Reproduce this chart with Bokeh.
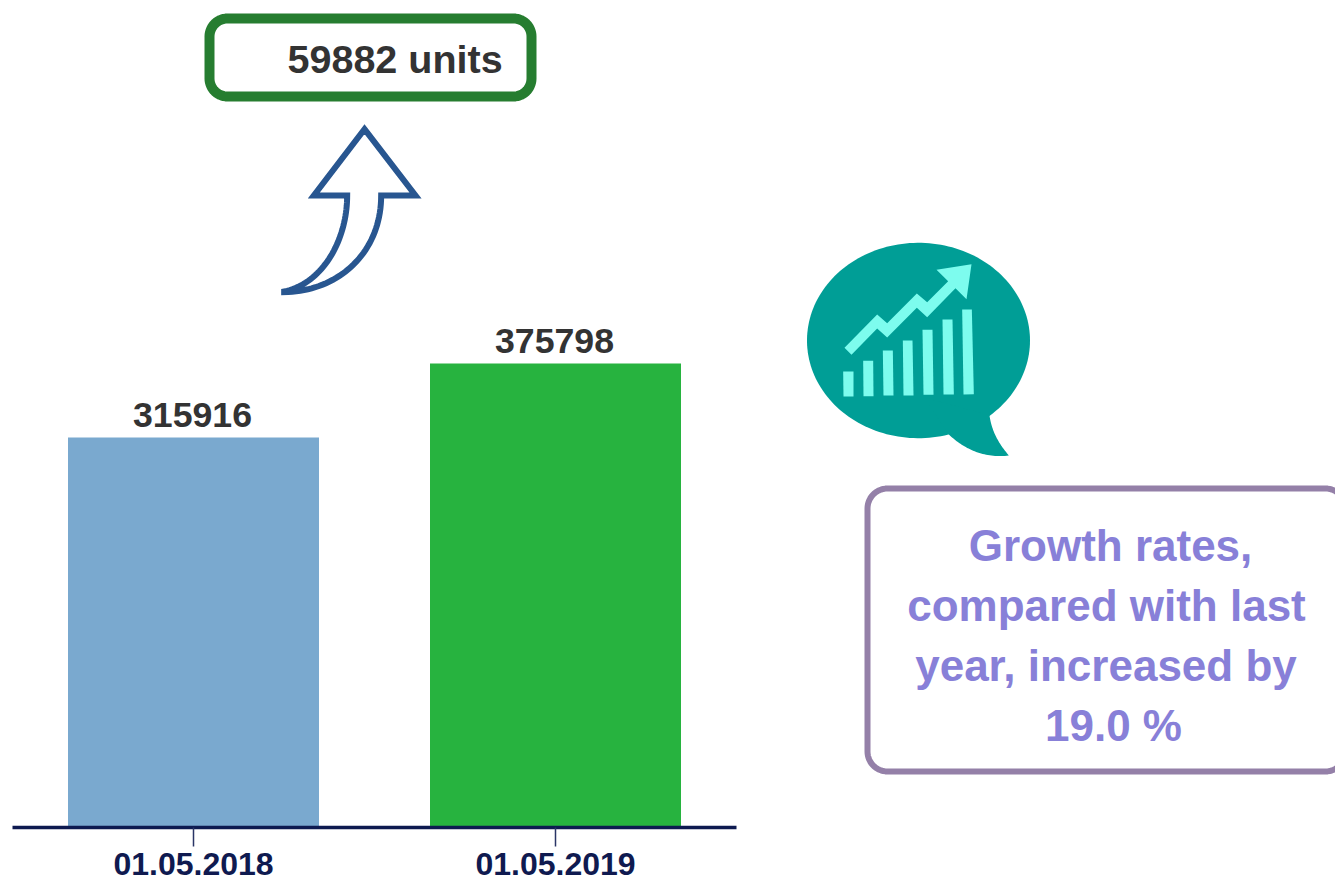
import numpy as np
from bokeh.core.properties import value
from bokeh.embed import file_html
from bokeh.models import FixedTicker, LinearAxis, Range1d
from bokeh.plotting import figure
from bokeh.resources import INLINE

# ---- data ----
dates = ["01.05.2018", "01.05.2019"]
units = [315916, 375798]
bar_colors = ["#7aa9cf", "#27b33f"]
increase_text = "59882 units"
growth_lines = ["Growth rates,", "compared with last", "year, increased by", "19.0 %"]

FONT = value("Liberation Sans")
W, H, AXIS_Y = 1335, 880, 827
PX_PER_UNIT = 464 / 375798
STEP, X0 = 362.0, 193.0

p = figure(width=W, height=H, output_backend="svg", toolbar_location=None,
           x_range=Range1d(-X0 / STEP, (W - X0) / STEP),
           y_range=Range1d(0, AXIS_Y / PX_PER_UNIT),
           min_border_left=0, min_border_right=0, min_border_top=0, min_border_bottom=H - AXIS_Y,
           outline_line_color=None, background_fill_color="white", border_fill_color="white",
           x_axis_type=None, y_axis_type=None)
p.grid.visible = False
p.extra_x_ranges["px"] = Range1d(0, W)
p.extra_y_ranges["px"] = Range1d(AXIS_Y, 0)
PX = dict(x_range_name="px", y_range_name="px")

# ---- bars ----
xs = list(range(len(dates)))
p.vbar(x=xs, top=units, width=251 / STEP, bottom=0, fill_color=bar_colors, line_color=None)
p.text(x=xs, y=units, text=[str(u) for u in units], text_font=FONT, text_font_style="bold",
       text_font_size="35.7px", text_color="#333333", text_align="center",
       text_baseline="middle", x_offset=-1, y_offset=-22.5)

axis = LinearAxis(ticker=FixedTicker(ticks=xs),
                  major_label_overrides={i: d for i, d in zip(xs, dates)},
                  bounds=(-0.5, 1.5),
                  axis_line_color="#0d1a50", axis_line_width=3.5,
                  major_tick_line_color="#2a3566", major_tick_line_width=1.5,
                  major_tick_in=0, major_tick_out=19, minor_tick_line_color=None,
                  major_label_standoff=6,
                  major_label_text_font="Liberation Sans", major_label_text_font_style="bold",
                  major_label_text_font_size="32px", major_label_text_color="#0f1a50")
p.add_layout(axis, "below")


# ---- decoration helpers (page pixels) ----
def bez(a, b, c, d, n=40):
    t = np.linspace(0, 1, n)[:, None]
    a, b, c, d = map(np.array, (a, b, c, d))
    return (1 - t) ** 3 * a + 3 * (1 - t) ** 2 * t * b + 3 * (1 - t) * t ** 2 * c + t ** 3 * d


def rrect(l, t, r, b, rad):
    pts = []
    for cx, cy, a0 in [(r - rad, t + rad, -90), (r - rad, b - rad, 0), (l + rad, b - rad, 90), (l + rad, t + rad, 180)]:
        a = np.radians(np.linspace(a0, a0 + 90, 16))
        pts.append(np.c_[cx + rad * np.cos(a), cy + rad * np.sin(a)])
    return np.vstack(pts)


def shape(pts, **kw):
    pts = np.asarray(pts, float)
    p.patch(pts[:, 0], pts[:, 1], **PX, **kw)


# ---- green box ----
shape(rrect(209, 18, 531, 96, 18), fill_color="white", line_color="#267d30", line_width=10, line_join="round")
p.text(x=[287], y=[58], text=[increase_text], text_font=FONT, text_font_style="bold", text_font_size="39.5px",
       text_color="#333333", text_align="left", text_baseline="middle", **PX)


# ---- curved arrow ----
def az(q):
    q = np.asarray(q, float)
    return np.c_[190 + q[:, 0] / 3, q[:, 1] / 3]


arrow = np.vstack([
    [[522, 386], [675, 585], [572, 585]],
    bez((572, 585), (572, 760), (440, 873), (281, 875)),
    bez((281, 873), (395, 850), (470, 720), (470, 585)),
    [[370, 585]],
])
shape(az(arrow), fill_color="white", line_color="#285690", line_width=6, line_join="miter")


# ---- speech bubble ----
def bz(q):
    q = np.asarray(q, float)
    return np.c_[790 + q[:, 0] / 3, 230 + q[:, 1] / 3]


a = np.linspace(0, 2 * np.pi, 180)
TEAL, MINT = "#009e96", "#7dfcee"
shape(np.c_[918 + 111.5 * np.cos(a), 340 + 97.7 * np.sin(a)], fill_color=TEAL, line_color=None)
tail = np.vstack([
    [[400, 500]],
    bez((597, 555), (605, 610), (630, 645), (655, 675)),
    bez((655, 675), (575, 685), (515, 650), (475, 612)),
])
shape(bz(tail), fill_color=TEAL, line_color=None)
for q in [
    [(158, 423), (189, 423), (189, 498), (159, 498)],
    [(218, 391), (248, 391), (249, 497), (219, 497)],
    [(277, 360), (307, 360), (309, 495), (279, 495)],
    [(337, 330), (366, 330), (369, 495), (339, 495)],
    [(396, 298), (426, 298), (429, 493), (399, 493)],
    [(456, 267), (486, 267), (490, 492), (459, 492)],
    [(515, 237), (544, 237), (550, 491), (519, 492)],
    [(162, 352), (260, 252), (290, 278), (379, 189), (410, 215), (473, 152), (438, 118), (543, 101),
     (528, 206), (495, 173), (410, 260), (379, 232), (290, 321), (260, 294), (183, 373)],
]:
    shape(bz(q), fill_color=MINT, line_color=None)

# ---- purple box ----
shape(rrect(867, 488, 1345, 771, 20), fill_color="white", line_color="#9480a8", line_width=6, line_join="round")
for cx, yc, line in zip([1110, 1106, 1105.5, 1113], [545, 605, 665, 725], growth_lines):
    p.text(x=[cx], y=[yc], text=[line], text_font=FONT, text_font_style="bold", text_font_size="44px",
           text_color="#8880d8", text_align="center", text_baseline="middle", **PX)

open("out.html", "w").write(file_html(p, INLINE))
